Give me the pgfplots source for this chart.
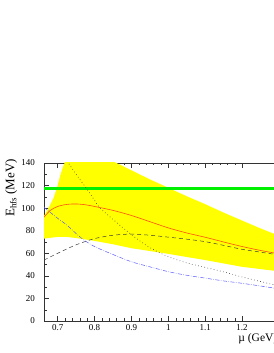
\documentclass[border=0pt]{standalone}
\usepackage{fontspec}
\setmainfont{Liberation Serif}
\usepackage{pgfplots}
\pgfplotsset{compat=1.18}
\usepgfplotslibrary{fillbetween}
\definecolor{bandyellow}{RGB}{255,255,0}
\definecolor{lgreen}{RGB}{0,240,0}
\definecolor{rorange}{RGB}{255,80,20}
\definecolor{lblue}{RGB}{90,90,255}
\begin{document}
\begin{tikzpicture}
\begin{axis}[
  at={(0,0)}, anchor=south west,
  scale only axis, width=235pt, height=158pt,
  xmin=0.663, xmax=1.3, ymin=0, ymax=140,
  clip=true,
  axis line style={black!80, line width=0.5pt},
  tick style={black!80, line width=0.4pt},
  tick align=inside,
  major tick length=5pt, minor tick length=2.5pt,
  xtick={0.7,0.8,0.9,1.0,1.1,1.2}, xticklabels={0.7,0.8,0.9,1,1.1,1.2},
  minor x tick num=4,
  ytick={0,20,40,60,80,100,120,140}, minor y tick num=1,
  /pgf/number format/assume math mode=true,
  tick label style={font=\fontsize{9}{10}\selectfont},
  yticklabel style={anchor=east, inner sep=0pt, xshift=-9pt},
  xticklabel style={anchor=north, inner sep=0pt, yshift=-3.5pt},
  ylabel={E{\fontsize{9}{10}\selectfont\raisebox{-0.45ex}{hfs}} (MeV)},
  ylabel style={at={(axis description cs:-0.139,1.025)}, anchor=east, inner sep=0pt, font=\fontsize{13}{15}\selectfont},
  xlabel={\textmu\ (GeV)},
  xlabel style={at={(axis description cs:1,-0.127)}, anchor=base east, xshift=-1.5pt, inner sep=0pt, font=\fontsize{11.5}{13}\selectfont},
]
\addplot[name path=upper, draw=none, forget plot] coordinates {
(0.663,93) (0.675,100) (0.689,109) (0.700,120) (0.707,129) (0.715,137) (0.725,145)
(0.75,150) (0.8,150) (0.85,141.5) (0.9,133.5) (0.95,125.5) (1.0,118) (1.05,110.5)
(1.1,103.5) (1.15,96) (1.2,89) (1.25,82) (1.3,75.5)};
\addplot[name path=lower, draw=none, forget plot] coordinates {
(0.663,73) (0.7,74.5) (0.725,74.5) (0.75,73.5) (0.8,71) (0.85,68) (0.9,64.5)
(0.95,62) (1.0,59.5) (1.05,56.7) (1.1,54) (1.15,51) (1.2,48) (1.25,46) (1.3,44)};
\addplot[fill=bandyellow, draw=none] fill between[of=upper and lower];
\addplot[lgreen, line width=3.3pt] coordinates {(0.663,117.5) (1.3,117.5)};
\addplot[rorange, line width=0.6pt, smooth] coordinates {
(0.663,92) (0.68,98) (0.70,101.5) (0.725,103.3) (0.75,103.7) (0.775,103) (0.8,101.5)
(0.85,98) (0.9,93.5) (0.95,88) (1.0,82.5) (1.05,78) (1.1,74.2) (1.15,70) (1.2,66)
(1.25,62.5) (1.3,59.5)};
\addplot[black!75, line width=0.5pt, dash pattern=on 4pt off 3pt, smooth] coordinates {
(0.663,54) (0.7,60) (0.75,67.5) (0.8,73) (0.85,76) (0.9,77) (0.95,76) (1.0,74.3)
(1.05,72.5) (1.1,70.3) (1.15,67) (1.2,63.5) (1.25,61) (1.3,58.5)};
\addplot[black!80, line width=0.6pt, dash pattern=on 0.6pt off 2.6pt, smooth] coordinates {
(0.70,153) (0.729,140) (0.75,130) (0.778,117.5) (0.8,107) (0.815,100) (0.85,90)
(0.9,76.5) (0.95,65) (1.0,57) (1.05,51.5) (1.1,47.5) (1.15,43.5) (1.2,39) (1.25,35) (1.3,31)};
\addplot[lblue, line width=0.5pt, dash pattern=on 4pt off 1.5pt on 0.6pt off 1.5pt, smooth] coordinates {
(0.663,100.7) (0.7,91) (0.725,85) (0.75,77.5) (0.77,72) (0.8,66) (0.842,60) (0.9,52.5)
(0.95,48) (1.0,43.7) (1.05,40.5) (1.1,38) (1.15,35.5) (1.2,33.4) (1.25,31) (1.3,28.5)};
\end{axis}
\pgfresetboundingbox
\useasboundingbox (-44pt,-32pt) rectangle (229pt,321pt);
\end{tikzpicture}
\end{document}
